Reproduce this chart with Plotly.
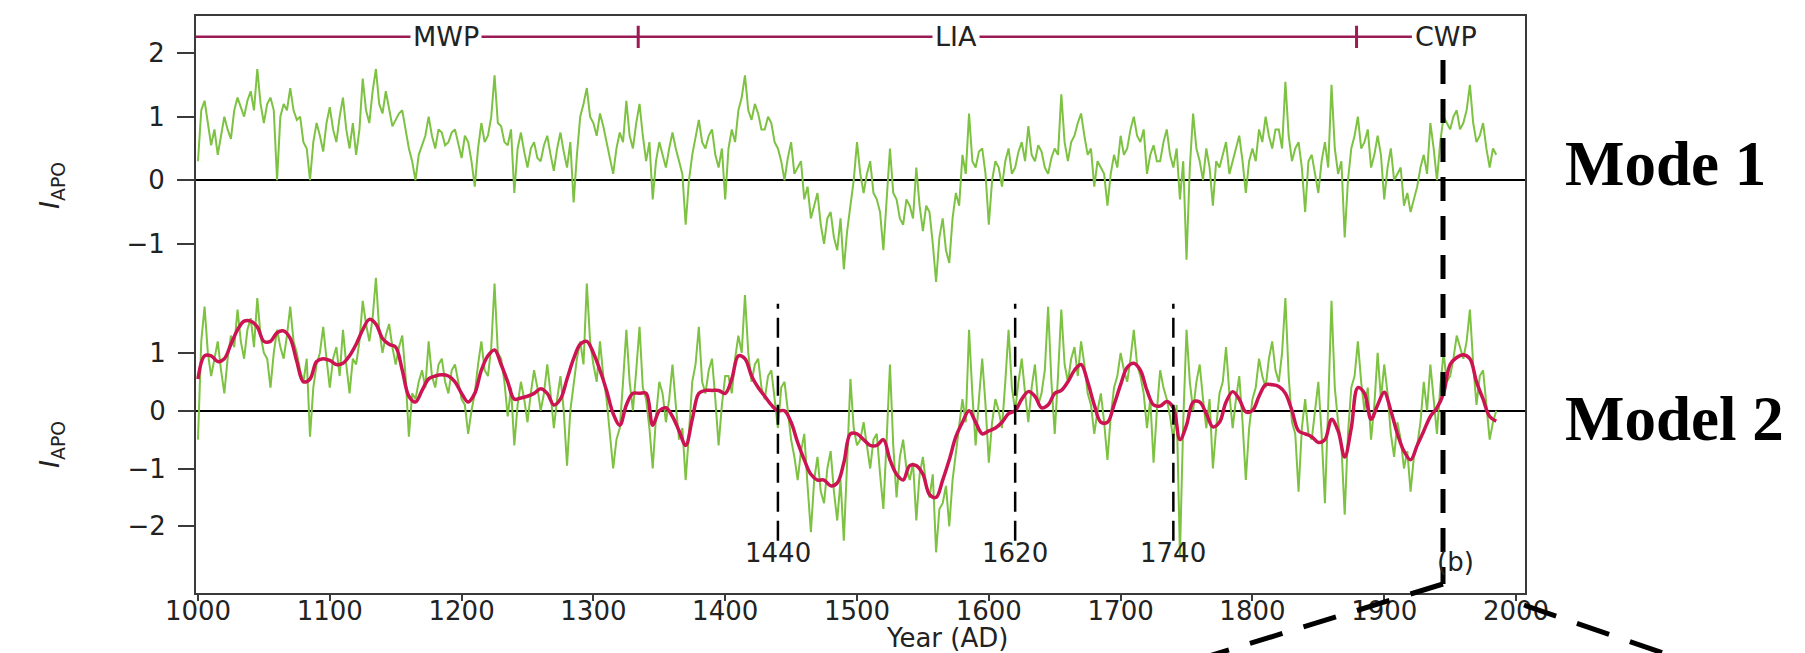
import plotly.graph_objects as go

# ---------------- data ----------------
YEARS = list(range(1000, 1990, 5))

MODE1 = [
    0.3, 1.25, 0.55, 0.4, 1.0, 0.65, 1.3, 1.0, 1.4, 1.75,
    0.9, 1.3, 0.0, 1.2, 1.45, 0.95, 0.6, 0.0, 0.9, 0.45,
    1.15, 0.6, 1.3, 0.5, 0.4, 1.6, 0.9, 1.75, 1.05, 1.15,
    0.95, 1.1, 0.5, 0.0, 0.55, 1.0, 0.5, 0.75, 0.6, 0.8,
    0.35, 0.6, -0.1, 0.9, 0.7, 1.65, 0.85, 0.55, -0.2, 0.75,
    0.2, 0.6, 0.3, 0.7, 0.15, 0.75, 0.2, -0.35, 1.0, 1.45,
    0.9, 1.05, 0.6, 0.1, 0.75, 1.25, 0.5, 1.2, 0.3, -0.3,
    0.6, 0.2, 0.75, 0.3, -0.7, 0.4, 0.95, 0.5, 0.8, 0.2,
    -0.3, 0.8, 1.1, 1.65, 0.95, 1.05, 0.8, 0.9, 0.5, 0.0,
    0.6, 0.2, -0.3, -0.6, -0.2, -1.0, -0.5, -1.1, -1.4, -0.4,
    0.6, -0.2, 0.3, -0.3, -1.1, 0.5, -0.3, -0.7, -0.4, 0.2,
    -0.8, -0.5, -1.6, -0.6, -1.3, -0.2, 0.4, 1.05, 0.2, 0.5,
    -0.7, 0.3, -0.1, 0.5, 0.2, 0.6, 0.85, 0.3, 0.45, 0.1,
    0.5, 1.35, 0.3, 0.7, 1.05, 0.4, -0.1, 0.2, -0.4, 0.4,
    0.7, 0.5, 1.0, 0.6, 0.1, 0.55, 0.3, 0.8, 0.2, -0.3,
    -1.25, 1.05, 0.3, 0.5, -0.4, 0.2, 0.6, 0.3, 0.7, -0.2,
    0.5, 0.8, 1.0, 0.5, 0.8, 1.55, 0.3, 0.6, -0.5, 0.4,
    -0.2, 0.6, 1.5, 0.1, -0.9, 0.5, 1.0, 0.6, 0.2, 0.7,
    -0.3, 0.5, 0.1, -0.4, -0.5, -0.1, 0.4, 0.9, 0.0, 1.0,
    0.8, 1.1, 0.9, 1.5, 0.6, 0.9, 0.2, 0.4,
]
# readings half-way between the 5-year readings (1002.5, 1007.5, ...)
MODE1_MID = [
    1.1, 0.9, 0.8, 0.7, 0.8, 1.1, 1.15, 1.25, 1.1, 1.2,
    1.2, 1.1, 1.0, 1.1, 1.1, 1.0, 0.5, 0.6, 0.7, 0.9,
    0.8, 1.0, 0.8, 0.9, 0.8, 1.1, 1.4, 1.2, 1.4, 0.85,
    1.05, 0.8, 0.3, 0.4, 0.7, 0.7, 0.8, 0.55, 0.75, 0.55,
    0.7, 0.3, 0.5, 0.6, 1.0, 0.9, 0.6, 0.8, 0.5, 0.45,
    0.5, 0.35, 0.55, 0.4, 0.5, 0.45, 0.6, 0.4, 1.2, 1.0,
    0.7, 0.85, 0.3, 0.5, 0.6, 0.7, 0.9, 0.7, 0.6, 0.3,
    0.4, 0.5, 0.5, 0.1, 0.0, 0.7, 0.6, 0.7, 0.4, 0.5,
    0.5, 0.6, 1.3, 1.1, 1.2, 0.8, 1.0, 0.6, 0.3, 0.35,
    0.1, 0.3, -0.1, -0.4, -0.7, -0.6, -0.9, -0.6, -0.8, 0.0,
    0.1, 0.1, -0.2, -0.5, -0.3, -0.2, -0.6, -0.3, -0.6, -0.4,
    -0.4, -1.0, -0.9, -1.1, -0.6, -0.4, 0.1, 0.3, 0.45, 0.1,
    0.0, 0.2, 0.3, 0.1, 0.45, 0.3, 0.4, 0.55, 0.2, 0.35,
    0.4, 0.6, 0.6, 0.9, 0.7, 0.5, 0.3, 0.1, 0.1, 0.2,
    0.4, 0.8, 0.7, 0.8, 0.4, 0.3, 0.6, 0.4, 0.5, 0.3,
    0.2, 0.5, 0.0, 0.2, 0.3, 0.4, 0.1, 0.5, 0.3, 0.3,
    0.3, 0.6, 0.7, 0.8, 0.5, 0.7, 0.5, 0.2, 0.3, 0.1,
    0.3, 0.2, 0.5, 0.3, 0.0, 0.7, 0.5, 0.8, 0.4, 0.4,
    0.2, 0.0, 0.2, -0.2, -0.3, 0.2, 0.1, 0.5, 0.6, 0.9,
    1.0, 0.8, 1.1, 0.9, 0.7, 0.5, 0.5,
]

MODEL2 = [
    -0.5, 1.8, 0.6, 1.2, 0.3, 1.3, 1.75, 0.9, 1.6, 1.95,
    1.0, 0.4, 1.4, 0.9, 1.8, 1.0, 0.5, -0.45, 0.8, 1.45,
    0.4, 1.1, 1.4, 0.3, 0.8, 1.9, 1.2, 2.3, 1.0, 1.5,
    0.8, 1.3, -0.45, 0.2, 0.7, 1.2, 0.4, 0.9, 0.3, 0.8,
    0.2, -0.4, 0.3, 1.2, 0.6, 2.2, 0.9, -0.1, -0.6, 0.5,
    -0.2, 0.7, 0.0, 0.8, -0.3, 0.6, -0.95, 0.5, 1.2, 2.2,
    0.8, 1.2, 0.2, -1.0, -0.3, 1.4, 0.0, 1.45, 0.2, -1.0,
    0.5, -0.2, 0.8, -0.5, -1.2, 0.5, 1.45, 0.3, 0.9, -0.6,
    0.6, 0.3, 1.3, 2.0, 0.5, 0.9, 0.2, 0.7, -0.3, 0.5,
    -0.5, -1.2, -0.4, -2.1, -0.8, -1.6, -0.7, -1.9, -2.25, 0.55,
    -0.6, -0.2, -1.0, -0.4, -1.7, 0.8, -1.5, -0.5, -1.2, -1.9,
    -0.8, -1.5, -2.45, -1.6, -2.0, -0.7, 0.2, 1.4, -0.6, 0.9,
    -0.9, 0.2, -0.3, 1.4, 0.0, 0.9, -0.2, 0.8, 0.3, 1.8,
    -0.4, 1.75, 0.5, 1.1, 1.2, 0.3, -0.4, 0.3, -0.85, 0.4,
    1.0, 0.5, 1.4, 0.6, -0.3, -0.9, 0.7, 0.2, -0.5, -2.5,
    1.4, 0.0, 0.8, -0.3, -1.0, 0.3, 1.1, -0.3, 0.6, -1.2,
    0.2, 0.9, 0.4, 1.2, 0.5, 1.95, -0.2, -1.4, 0.2, -0.5,
    0.5, -1.6, 1.9, -0.2, -1.8, 0.4, 1.2, 0.0, -0.5, 1.0,
    0.8, -0.4, -0.2, -1.0, -1.4, -0.6, 0.5, 0.8, -0.4, 1.0,
    0.6, 1.3, 0.9, 1.75, 0.1, 0.7, -0.5, 0.0,
]
MODEL2_MID = [
    1.2, 1.0, 0.9, 0.7, 0.9, 1.1, 1.2, 1.4, 1.1, 1.3,
    0.9, 1.0, 1.1, 1.3, 1.2, 0.7, 0.9, 0.4, 1.0, 0.9,
    0.9, 0.6, 0.8, 0.9, 1.2, 1.5, 1.6, 1.4, 1.3, 1.1,
    1.1, 0.6, 0.3, 0.5, 0.4, 0.6, 0.8, 0.5, 0.7, 0.5,
    0.1, 0.0, 0.8, 0.7, 1.1, 1.0, 0.5, 0.4, 0.1, 0.2,
    0.3, 0.4, 0.3, 0.3, 0.2, 0.0, 0.0, 0.9, 0.8, 1.2,
    0.5, 0.6, -0.4, -0.5, 0.5, 0.5, 0.7, 0.4, -0.3, -0.1,
    0.3, 0.2, 0.1, -0.3, -0.4, 0.8, 0.5, 0.7, 0.2, 0.1,
    0.6, 0.9, 1.0, 1.0, 0.8, 0.4, 0.6, 0.2, 0.4, 0.0,
    -0.8, -0.7, -1.3, -1.2, -1.4, -1.0, -1.4, -1.2, -0.9, -0.3,
    -0.5, -0.6, -0.5, -1.1, -0.5, -0.6, -0.8, -1.0, -0.9, -1.1,
    -1.3, -1.1, -1.7, -1.3, -1.2, -0.3, -0.2, 0.3, 0.2, 0.1,
    -0.2, 0.0, 0.5, 0.4, 0.5, 0.3, 0.4, 0.1, 0.7, 0.5,
    0.6, 0.8, 0.9, 0.6, 0.8, 0.1, 0.0, -0.2, -0.1, 0.6,
    0.7, 0.9, 0.8, 0.3, 0.2, 0.0, 0.4, -0.1, 0.1, -0.2,
    0.5, 0.5, 0.2, 0.2, -0.3, 0.5, 0.3, 0.2, -0.2, -0.3,
    0.4, 0.6, 0.9, 0.7, 1.0, 0.6, -0.4, -0.3, -0.4, 0.0,
    -0.4, 0.1, 0.4, -0.6, -0.4, 0.6, 0.5, 0.4, 0.1, 0.2,
    0.3, -0.8, -0.5, -0.7, -0.8, -0.2, 0.0, 0.2, 0.4, 0.5,
    0.9, 1.1, 1.2, 0.8, 0.6, 0.1, -0.2,
]

MODEL2_SMOOTH = [
    0.55, 0.95, 0.95, 0.85, 0.9, 1.15, 1.4, 1.55, 1.55, 1.45,
    1.2, 1.2, 1.35, 1.38, 1.25, 0.85, 0.5, 0.55, 0.85, 0.9,
    0.87, 0.8, 0.82, 0.95, 1.15, 1.4, 1.58, 1.5, 1.25, 1.15,
    1.1, 0.7, 0.25, 0.15, 0.35, 0.55, 0.6, 0.62, 0.6, 0.5,
    0.3, 0.15, 0.3, 0.7, 0.95, 1.05, 0.8, 0.5, 0.2, 0.22,
    0.25, 0.3, 0.38, 0.3, 0.1, 0.2, 0.55, 0.9, 1.15, 1.2,
    1.0, 0.7, 0.35, -0.05, -0.25, 0.1, 0.3, 0.3, 0.3, -0.25,
    0.0, 0.05, -0.1, -0.35, -0.6, -0.15, 0.3, 0.35, 0.35, 0.35,
    0.3, 0.55, 0.95, 0.9, 0.6, 0.4, 0.25, 0.1, 0.0, 0.0,
    -0.2, -0.55, -0.85, -1.1, -1.2, -1.2, -1.3, -1.25, -0.9, -0.4,
    -0.4, -0.5, -0.6, -0.6, -0.5, -0.85, -1.1, -1.2, -0.95, -0.95,
    -1.1, -1.45, -1.5, -1.2, -0.85, -0.45, -0.2, 0.0, -0.2, -0.4,
    -0.35, -0.3, -0.2, -0.05, 0.0, 0.2, 0.33, 0.25, 0.05, 0.1,
    0.3, 0.35, 0.5, 0.7, 0.8, 0.5, 0.1, -0.2, -0.2, 0.1,
    0.45, 0.75, 0.82, 0.7, 0.35, 0.1, 0.08, 0.16, 0.05, -0.5,
    -0.25, 0.15, 0.15, -0.05, -0.28, -0.2, 0.15, 0.33, 0.2, -0.02,
    0.0, 0.25, 0.45, 0.45, 0.42, 0.3, 0.0, -0.35, -0.4, -0.45,
    -0.55, -0.5, -0.15, -0.35, -0.8, -0.3, 0.4, 0.3, -0.15, 0.1,
    0.32, 0.0, -0.4, -0.7, -0.85, -0.6, -0.35, -0.1, 0.05, 0.3,
    0.8, 0.92, 0.97, 0.9, 0.5, 0.2, -0.1, -0.18,
]

X_TICKS = [1000, 1100, 1200, 1300, 1400, 1500, 1600, 1700, 1800, 1900, 2000]
Y1_TICKS = [-1, 0, 1, 2]
Y2_TICKS = [-2, -1, 0, 1]
EVENT_YEARS = [1440, 1620, 1740]
PERIOD_NAMES = ["MWP", "LIA", "CWP"]
PERIOD_LABEL_YEARS = [1188, 1575, 1921]
PERIOD_BOUNDARIES = [1334, 1879]

# ---------------- geometry / style ----------------
W, H = 1805, 653
ML, MR, MT, MB = 188, 288, 8, 68
PW, PH = W - ML - MR, H - MT - MB
X_RANGE = [998.5, 2006.8]
Y1_RANGE = [-6.49, 2.583]
Y2_RANGE = [-3.154, 6.829]

GREEN = "#7DC242"
RED = "#CC1452"
BAR = "#9B1B55"
AXC = "#3a3a3a"
FONT = "DejaVu Sans"
TXT = "#222"


def px(X):
    return (X - ML) / PW


def py(Y):
    return (H - MB - Y) / PH


def merge(main, mid):
    pts = list(zip(YEARS, main)) + [(y + 2.5, v) for y, v in zip(YEARS[:-1], mid)]
    pts.sort()
    return [p[0] for p in pts], [p[1] for p in pts]


x1, v1 = merge(MODE1, MODE1_MID)
x2, v2 = merge(MODEL2, MODEL2_MID)

fig = go.Figure()
fig.add_trace(go.Scatter(x=x1, y=v1, mode="lines", yaxis="y",
                         line=dict(color=GREEN, width=2), hoverinfo="skip"))
fig.add_trace(go.Scatter(x=x2, y=v2, mode="lines", yaxis="y2",
                         line=dict(color=GREEN, width=2), hoverinfo="skip"))
fig.add_trace(go.Scatter(x=YEARS, y=MODEL2_SMOOTH, mode="lines", yaxis="y2",
                         line=dict(color=RED, width=3.5, shape="spline", smoothing=1),
                         hoverinfo="skip"))

shapes = []
# period bar
shapes.append(dict(type="line", xref="x", yref="y", x0=X_RANGE[0], x1=PERIOD_LABEL_YEARS[2],
                   y0=2.257, y1=2.257, line=dict(color=BAR, width=2.5), layer="below"))
for b in PERIOD_BOUNDARIES:
    shapes.append(dict(type="line", xref="x", yref="y", x0=b, x1=b, y0=2.08, y1=2.43,
                       line=dict(color=BAR, width=3)))
# event lines
for ev in EVENT_YEARS:
    shapes.append(dict(type="line", xref="x", yref="y2", x0=ev, x1=ev, y0=-2.25, y1=1.85,
                       line=dict(color="black", width=2.5, dash="20px,9px")))
# call-out dashed lines
shapes.append(dict(type="line", xref="paper", yref="paper", x0=px(1435), x1=px(1435),
                   y0=py(52), y1=py(576), line=dict(color="black", width=5, dash="24px,15px")))
shapes.append(dict(type="line", xref="paper", yref="paper", x0=px(1435), x1=px(1120),
                   y0=py(576), y1=py(673), line=dict(color="black", width=5, dash="34px,22px")))
shapes.append(dict(type="line", xref="paper", yref="paper", x0=px(1516), x1=px(1710),
                   y0=py(597), y1=py(664), line=dict(color="black", width=5, dash="34px,22px")))

ann = []
for name, yr in zip(PERIOD_NAMES, PERIOD_LABEL_YEARS):
    ann.append(dict(x=yr, y=2.257, xref="x", yref="y", text=name, showarrow=False,
                    xanchor="left" if name == "CWP" else "center", yanchor="middle",
                    font=dict(family=FONT, size=27, color=TXT),
                    bgcolor="white", borderpad=2))
for ev in EVENT_YEARS:
    ann.append(dict(x=ev, y=-2.47, xref="x", yref="y2", text=str(ev), showarrow=False,
                    xanchor="center", yanchor="middle",
                    font=dict(family=FONT, size=26, color=TXT)))
ann.append(dict(x=1954, y=-2.62, xref="x", yref="y2", text="(b)", showarrow=False,
                xanchor="center", yanchor="middle", font=dict(family=FONT, size=26, color=TXT)))
ann.append(dict(x=px(939), y=py(630), xref="paper", yref="paper", text="Year (AD)",
                showarrow=False, xanchor="center", yanchor="middle",
                font=dict(family=FONT, size=26, color=TXT)))
for yc in (178, 437):
    ann.append(dict(x=px(44), y=py(yc), xref="paper", yref="paper",
                    text="<i>I</i><sub>APO</sub>", textangle=-90, showarrow=False,
                    xanchor="center", yanchor="middle",
                    font=dict(family=FONT, size=27, color=TXT)))
ann.append(dict(x=px(1555), y=py(156), xref="paper", yref="paper", text="<b>Mode 1</b>",
                showarrow=False, xanchor="left", yanchor="middle",
                font=dict(family="Liberation Serif", size=63, color="black")))
ann.append(dict(x=px(1555), y=py(411), xref="paper", yref="paper", text="<b>Model 2</b>",
                showarrow=False, xanchor="left", yanchor="middle",
                font=dict(family="Liberation Serif", size=63, color="black")))

fig.update_layout(
    width=W, height=H, margin=dict(l=ML, r=MR, t=MT, b=MB, autoexpand=False),
    paper_bgcolor="white", plot_bgcolor="white", showlegend=False,
    shapes=shapes, annotations=ann,
    xaxis=dict(range=X_RANGE, tickvals=X_TICKS, ticks="outside", ticklen=6, tickwidth=2,
               tickcolor=AXC, showline=True, linecolor=AXC, linewidth=2, mirror=True,
               showgrid=False, zeroline=False, ticklabelstandoff=-12,
               tickfont=dict(family=FONT, size=26, color=TXT)),
    yaxis=dict(range=Y1_RANGE, tickvals=Y1_TICKS, ticks="outside", ticklen=17, tickwidth=2,
               tickcolor=AXC, showline=True, linecolor=AXC, linewidth=2, mirror=True,
               showgrid=False, zeroline=True, zerolinecolor="black", zerolinewidth=1.5,
               ticklabelstandoff=7, tickfont=dict(family=FONT, size=26, color=TXT)),
    yaxis2=dict(range=Y2_RANGE, tickvals=Y2_TICKS, ticks="outside", ticklen=17, tickwidth=2,
                tickcolor=AXC, overlaying="y", side="left", showline=False,
                showgrid=False, zeroline=True, zerolinecolor="black", zerolinewidth=1.5,
                ticklabelstandoff=7, tickfont=dict(family=FONT, size=26, color=TXT)),
)

fig.write_html("out.html")
